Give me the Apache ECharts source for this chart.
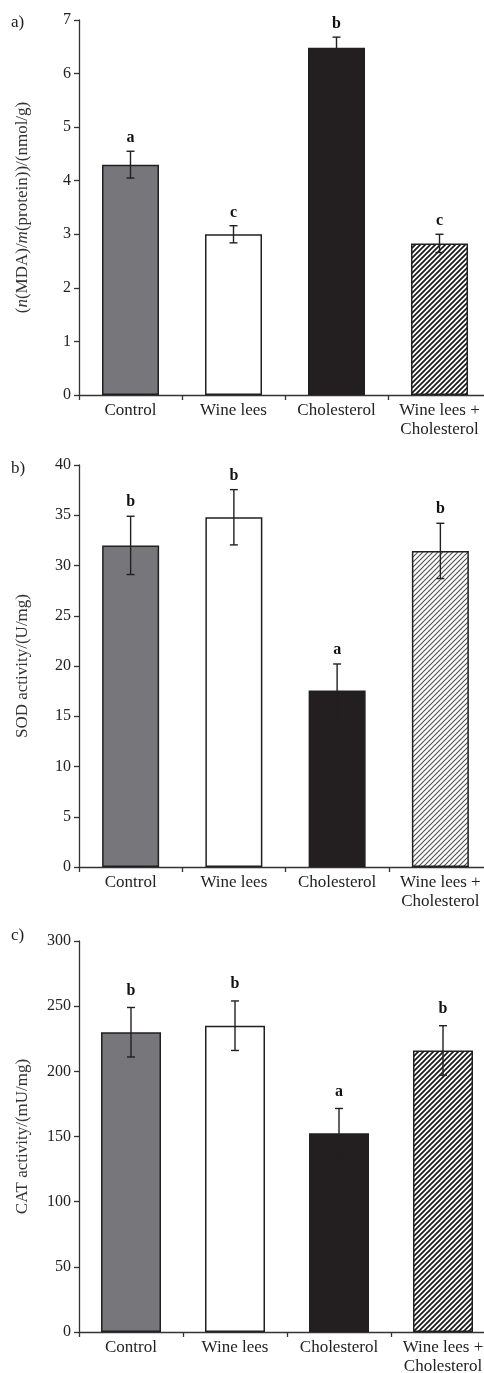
<!DOCTYPE html>
<html>
<head>
<meta charset="utf-8">
<script src="https://cdn.jsdelivr.net/npm/echarts@6/dist/echarts.min.js"></script>
<style>
html,body{margin:0;padding:0;background:#fff;}
#chart{width:484px;height:1373px;}
</style>
</head>
<body>
<div id="chart"></div>
<script>
// ---- data ----
const categories = ['Control', 'Wine lees', 'Cholesterol', 'Wine lees +\nCholesterol'];
const mdaValues = [4.3, 3.0, 6.48, 2.83];
const mdaErrors = [0.25, 0.16, 0.2, 0.17];
const mdaLetters = ['a', 'c', 'b', 'c'];
const sodValues = [32.0, 34.8, 17.55, 31.45];
const sodErrors = [2.9, 2.75, 2.65, 2.75];
const sodLetters = ['b', 'b', 'a', 'b'];
const catValues = [230, 235, 152.5, 216];
const catErrors = [19, 19, 19, 19];
const catLetters = ['b', 'b', 'a', 'b'];
const mdaTicks = { min: 0, max: 7, interval: 1 };
const sodTicks = { min: 0, max: 40, interval: 5 };
const catTicks = { min: 0, max: 300, interval: 50 };

const FONT = "'Liberation Serif', 'Times New Roman', serif";
const INK = '#231f20';

function hatch(color, lw, size) {
  const c = document.createElement('canvas');
  c.width = size; c.height = size;
  const g = c.getContext('2d');
  g.fillStyle = '#fff';
  g.fillRect(0, 0, size, size);
  g.strokeStyle = color;
  g.lineWidth = lw;
  g.beginPath();
  g.moveTo(0, size); g.lineTo(size, 0);
  g.moveTo(-size / 2, size / 2); g.lineTo(size / 2, -size / 2);
  g.moveTo(size / 2, size * 1.5); g.lineTo(size * 1.5, size / 2);
  g.stroke();
  return { image: c, repeat: 'repeat' };
}

const fillsA = ['#77777b', '#ffffff', INK, hatch('#1a1a1a', 1.7, 5)];
const fillsB = ['#77777b', '#ffffff', INK, hatch('#555555', 1.2, 5)];
const fillsC = ['#77777b', '#ffffff', INK, hatch('#1a1a1a', 1.7, 5)];

const panels = [
  { top: 20, height: 375, width: 412, barWidth: 57, vals: mdaValues, errs: mdaErrors, letters: mdaLetters, ticks: mdaTicks, fills: fillsA, letterOff: 13,
    name: '{p|(}{i|n}{p|(MDA)/}{i|m}{p|(protein))/(nmol/g)}', tag: 'a)', tagY: 24 },
  { top: 465, height: 402, width: 413, barWidth: 57, vals: sodValues, errs: sodErrors, letters: sodLetters, ticks: sodTicks, fills: fillsB, letterOff: 14,
    name: '{p|SOD activity/(U/mg)}', tag: 'b)', tagY: 470 },
  { top: 941, height: 391, width: 416, barWidth: 60, vals: catValues, errs: catErrors, letters: catLetters, ticks: catTicks, fills: fillsC, letterOff: 17,
    name: '{p|CAT activity/(mU/mg)}', tag: 'c)', tagY: 937 }
];

const grid = [], xAxis = [], yAxis = [], series = [], graphic = [];
panels.forEach((p, i) => {
  grid.push({ left: 79, top: p.top, width: p.width, height: p.height, containLabel: false, outerBoundsMode: 'none' });
  xAxis.push({
    type: 'category', gridIndex: i, data: categories,
    axisLine: { lineStyle: { color: '#333', width: 1.3 } },
    axisTick: { show: true, length: 5, lineStyle: { color: '#333', width: 1.3 } },
    axisLabel: { color: '#222', fontFamily: FONT, fontSize: 17, margin: 6, lineHeight: 19, interval: 0, hideOverlap: false }
  });
  yAxis.push({
    type: 'value', gridIndex: i, min: p.ticks.min, max: p.ticks.max, interval: p.ticks.interval,
    splitLine: { show: false },
    axisLine: { show: true, lineStyle: { color: '#333', width: 1.3 } },
    axisTick: { show: true, length: 5, lineStyle: { color: '#333', width: 1.3 } },
    axisLabel: { color: '#222', fontFamily: FONT, fontSize: 16, margin: 8 },
    name: p.name, nameLocation: 'middle', nameGap: 48, nameRotate: 90,
    nameTextStyle: {
      rich: {
        p: { fontFamily: FONT, fontSize: 17, color: '#333' },
        i: { fontFamily: FONT, fontSize: 17, color: '#333', fontStyle: 'italic' }
      }
    }
  });
  series.push({
    type: 'bar', xAxisIndex: i, yAxisIndex: i, barWidth: p.barWidth,
    data: p.vals.map((v, k) => ({ value: v, itemStyle: { color: p.fills[k] } })),
    itemStyle: { borderColor: INK, borderWidth: 1.5 },
    animation: false, silent: true
  });
  series.push({
    type: 'custom', xAxisIndex: i, yAxisIndex: i,
    data: p.vals.map((v, k) => [k, v, p.errs[k]]),
    renderItem: function (params, api) {
      const k = api.value(0), v = api.value(1), e = api.value(2);
      const hi = api.coord([k, v + e]);
      const lo = api.coord([k, v - e]);
      const cap = 4;
      return {
        type: 'group',
        children: [
          { type: 'line', shape: { x1: hi[0], y1: hi[1], x2: lo[0], y2: lo[1] }, style: { stroke: INK, lineWidth: 1.4 } },
          { type: 'line', shape: { x1: hi[0] - cap, y1: hi[1], x2: hi[0] + cap, y2: hi[1] }, style: { stroke: INK, lineWidth: 1.4 } },
          { type: 'line', shape: { x1: lo[0] - cap, y1: lo[1], x2: lo[0] + cap, y2: lo[1] }, style: { stroke: INK, lineWidth: 1.4 } },
          { type: 'text', x: hi[0], y: hi[1] - p.letterOff,
            style: { text: p.letters[params.dataIndex], fontFamily: FONT, fontSize: 16, fontWeight: 'bold', fill: '#111', align: 'center', verticalAlign: 'middle' } }
        ]
      };
    },
    animation: false, silent: true, z: 5
  });
  graphic.push({ type: 'text', left: 11, top: p.tagY - 10, style: { text: p.tag, fontFamily: FONT, fontSize: 17, fill: '#222' } });
});

const chart = echarts.init(document.getElementById('chart'), null, { renderer: 'canvas' });
chart.setOption({ animation: false, backgroundColor: '#fff', grid, xAxis, yAxis, series, graphic });
</script>
</body>
</html>
